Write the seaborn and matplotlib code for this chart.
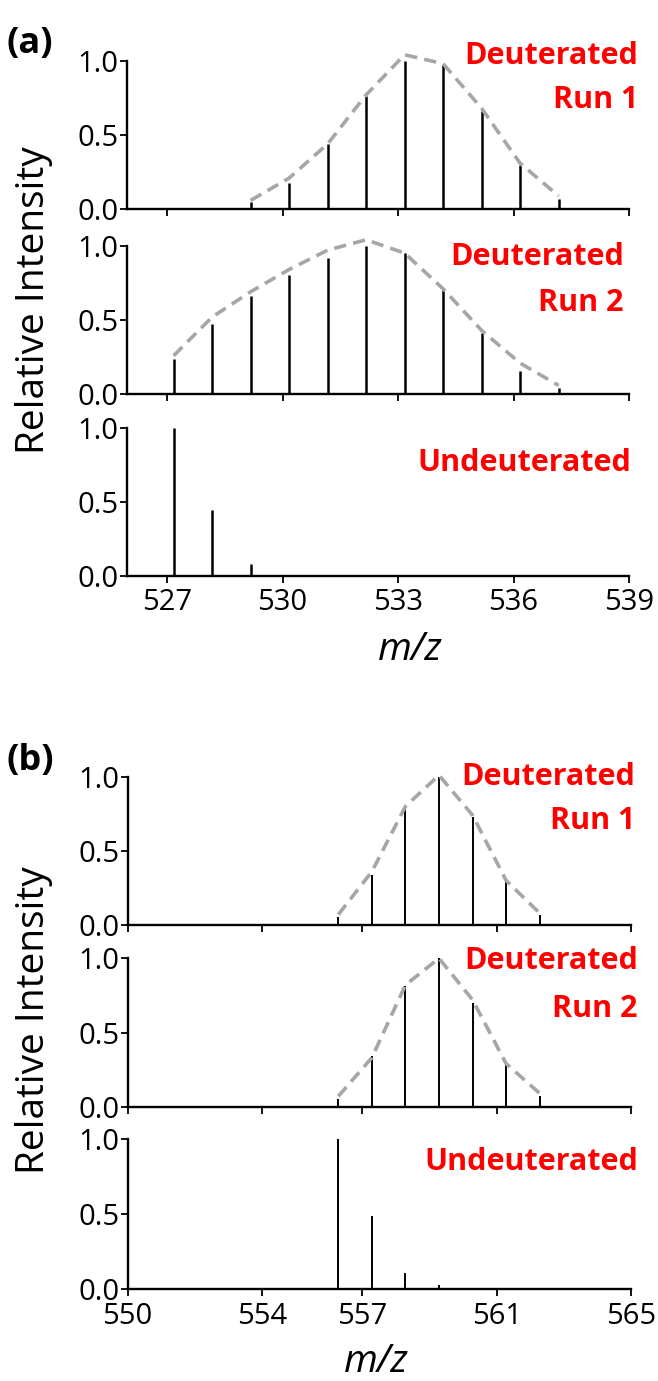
import numpy as np
import pandas as pd
import matplotlib
matplotlib.use("Agg")
import matplotlib.pyplot as plt
import seaborn as sns

# ---- data ----
a_run1_mz = [529.17, 530.17, 531.17, 532.17, 533.17, 534.17, 535.17, 536.17, 537.17, 538.17]
a_run1_int = [0.05, 0.18, 0.44, 0.76, 1.00, 0.97, 0.66, 0.30, 0.07, 0.01]
a_run1_env = [0.06, 0.21, 0.44, 0.77, 1.04, 0.98, 0.68, 0.31, 0.09]

a_run2_mz = [527.17, 528.17, 529.17, 530.17, 531.17, 532.17, 533.17, 534.17, 535.17, 536.17, 537.17]
a_run2_int = [0.24, 0.47, 0.66, 0.80, 0.92, 1.00, 0.95, 0.71, 0.41, 0.16, 0.04]
a_run2_env = [0.26, 0.52, 0.69, 0.84, 0.97, 1.04, 0.95, 0.71, 0.43, 0.21, 0.06]

a_undeut_mz = [527.17, 528.17, 529.17, 530.17]
a_undeut_int = [1.00, 0.445, 0.08, 0.005]

b_run1_mz = [556.28, 557.28, 558.28, 559.28, 560.28, 561.28, 562.28, 563.28]
b_run1_int = [0.056, 0.34, 0.80, 1.00, 0.73, 0.29, 0.067, 0.008]
b_run1_env = [0.07, 0.36, 0.80, 1.01, 0.74, 0.30, 0.08]

b_run2_mz = [556.28, 557.28, 558.28, 559.28, 560.28, 561.28, 562.28]
b_run2_int = [0.05, 0.34, 0.81, 1.00, 0.70, 0.29, 0.07]
b_run2_env = [0.07, 0.33, 0.82, 1.00, 0.72, 0.29, 0.09]

b_undeut_mz = [556.28, 557.28, 558.28, 559.28]
b_undeut_int = [1.00, 0.49, 0.11, 0.027]

a_xticks = [527, 530, 533, 536, 539]
b_xticks = [550, 554, 557, 561, 565]
yticks = [0.0, 0.5, 1.0]
ylabels = ["0.0", "0.5", "1.0"]

sns.set_theme(style="ticks")
plt.rcParams["font.family"] = ["Open Sans", "DejaVu Sans"]
plt.rcParams["text.color"] = "black"

W, H = 658, 1381
fig = plt.figure(figsize=(W / 100, H / 100), dpi=100)


def px_axes(left, right, y_bottom, y_top):
    return fig.add_axes([left / W, 1 - y_bottom / H, (right - left) / W, (y_bottom - y_top) / H])


def draw_panel(ax, mz, inten, env, xlim, xticks, lw, show_xlabels):
    ax.vlines(mz, 0, inten, color="black", lw=lw, clip_on=False, zorder=3)
    if env is not None:
        df = pd.DataFrame({"mz": mz[:len(env)], "env": env})
        sns.lineplot(data=df, x="mz", y="env", ax=ax, color="#a6a6a6", lw=2.6,
                     linestyle=(0, (3.4, 2.0)), clip_on=False, zorder=4)
    ax.set_xlim(*xlim)
    ax.set_ylim(0, 1)
    ax.set_xticks(xticks)
    ax.set_yticks(yticks)
    ax.set_yticklabels(ylabels)
    if not show_xlabels:
        ax.set_xticklabels([])
    ax.set_xlabel("")
    ax.set_ylabel("")
    for s in ["top", "right"]:
        ax.spines[s].set_visible(False)
    for s in ["left", "bottom"]:
        ax.spines[s].set_linewidth(1.7)
        ax.spines[s].set_color("black")
    ax.tick_params(axis="both", direction="out", length=5, width=1.3, colors="black",
                   labelcolor="black", labelsize=21)
    ax.tick_params(axis="y", pad=1)
    ax.tick_params(axis="x", pad=4)
    ax.patch.set_alpha(0)


# panel (a)
aL, aR = 126.7, 629
a1 = px_axes(aL, aR, 209.3, 60.7)
a2 = px_axes(aL, aR, 394.3, 245.7)
a3 = px_axes(aL, aR, 576, 427.7)
draw_panel(a1, a_run1_mz, a_run1_int, a_run1_env, (525.95, 539), a_xticks, 1.8, False)
draw_panel(a2, a_run2_mz, a_run2_int, a_run2_env, (525.95, 539), a_xticks, 1.8, False)
draw_panel(a3, a_undeut_mz, a_undeut_int, None, (525.95, 539), a_xticks, 1.8, True)

# panel (b)
bL, bR = 127.5, 631
b1 = px_axes(bL, bR, 925, 776.7)
b2 = px_axes(bL, bR, 1106.7, 958.3)
b3 = px_axes(bL, bR, 1289, 1139.3)
draw_panel(b1, b_run1_mz, b_run1_int, b_run1_env, (550, 565), b_xticks, 1.4, False)
draw_panel(b2, b_run2_mz, b_run2_int, b_run2_env, (550, 565), b_xticks, 1.4, False)
draw_panel(b3, b_undeut_mz, b_undeut_int, None, (550, 565), b_xticks, 1.4, True)


def ftext(x, y, s, **kw):
    fig.text(x / W, 1 - y / H, s, **kw)


red = dict(color="#ff0000", fontsize=22, fontweight="bold", ha="right", va="baseline")
ftext(638, 64, "Deuterated", **red)
ftext(638, 108, "Run 1", **red)
ftext(624, 265, "Deuterated", **red)
ftext(624, 311, "Run 2", **red)
ftext(631, 471, "Undeuterated", **red)
ftext(635, 785, "Deuterated", **red)
ftext(635, 829, "Run 1", **red)
ftext(638, 969, "Deuterated", **red)
ftext(638, 1017, "Run 2", **red)
ftext(638, 1170, "Undeuterated", **red)

ftext(7, 53, "(a)", fontsize=26, fontweight="bold", ha="left", va="baseline")
ftext(7, 770, "(b)", fontsize=26, fontweight="bold", ha="left", va="baseline")

ftext(34, 300, "Relative Intensity", fontsize=28, rotation=90, ha="center", va="center")
ftext(34, 1020, "Relative Intensity", fontsize=28, rotation=90, ha="center", va="center")

ftext(410, 650, "m/z", fontsize=28, style="italic", ha="center", va="center")
ftext(376, 1362, "m/z", fontsize=28, style="italic", ha="center", va="center")

fig.savefig("out.png", dpi=100)
